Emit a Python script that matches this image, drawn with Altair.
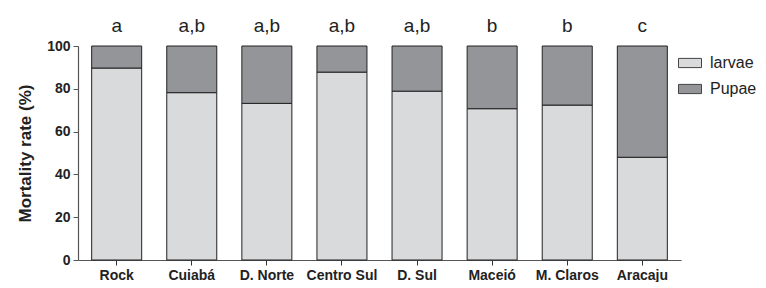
import altair as alt
import pandas as pd

sites = ["Rock", "Cuiabá", "D. Norte", "Centro Sul", "D. Sul", "Maceió", "M. Claros", "Aracaju"]
larvae = [89.7, 78.2, 73.2, 87.8, 78.9, 70.7, 72.4, 48.0]
pupae = [round(100 - v, 1) for v in larvae]
letters = ["a", "a,b", "a,b", "a,b", "a,b", "b", "b", "c"]
stages = ["larvae", "Pupae"]
colors = ["#d9dadc", "#939598"]

rows = []
for s, l, p in zip(sites, larvae, pupae):
    rows.append({"site": s, "stage": "larvae", "value": l, "ord": 0})
    rows.append({"site": s, "stage": "Pupae", "value": p, "ord": 1})
df = pd.DataFrame(rows)
df_letters = pd.DataFrame({"site": sites, "letter": letters})

FONT = "Liberation Sans, Arial, Helvetica, sans-serif"

xenc = alt.X(
    "site:N",
    sort=sites,
    scale=alt.Scale(paddingInner=0.334, paddingOuter=0.182),
    axis=alt.Axis(
        title=None, labelAngle=0, labelFont=FONT, labelFontSize=14,
        labelFontWeight="bold", labelColor="#222", domainColor="#555",
        tickColor="#333", tickSize=5, labelPadding=3, domainWidth=1.2,
    ),
)

bars = alt.Chart(df).mark_bar(stroke="#222", strokeWidth=1).encode(
    x=xenc,
    y=alt.Y(
        "value:Q", stack="zero",
        scale=alt.Scale(domain=[0, 100], nice=False),
        axis=alt.Axis(
            title="Mortality rate (%)", titleFont=FONT, titleFontSize=17,
            titleFontWeight="bold", titleColor="#222", titlePadding=12,
            labelFont=FONT, labelFontSize=14, labelFontWeight="bold",
            labelColor="#222", values=[0, 20, 40, 60, 80, 100],
            domainColor="#555", tickColor="#555", tickSize=5, grid=False,
            labelPadding=3, domainWidth=1.2,
        ),
    ),
    color=alt.Color(
        "stage:N", sort=stages,
        scale=alt.Scale(domain=stages, range=colors),
        legend=alt.Legend(
            title=None, orient="none", legendX=600, legendY=5,
            symbolType="M-1,-0.4L1,-0.4L1,0.4L-1,0.4Z", symbolSize=529,
            symbolStrokeColor="#444", symbolStrokeWidth=1,
            labelFont=FONT, labelFontSize=16, labelColor="#222",
            rowPadding=6, labelOffset=8,
        ),
    ),
    order=alt.Order("ord:Q"),
)

text = alt.Chart(df_letters).mark_text(
    font=FONT, fontSize=19, baseline="alphabetic", color="#222"
).encode(
    x=alt.X("site:N", sort=sites),
    y=alt.value(-14),
    text="letter:N",
)

chart = alt.layer(bars, text).properties(
    width=603, height=214,
    autosize=alt.AutoSizeParams(type="none"),
    padding={"left": 70, "top": 38, "right": 77, "bottom": 22},
).configure_view(stroke=None)

chart.save("out.html", embed_options={"renderer": "svg", "actions": False})
